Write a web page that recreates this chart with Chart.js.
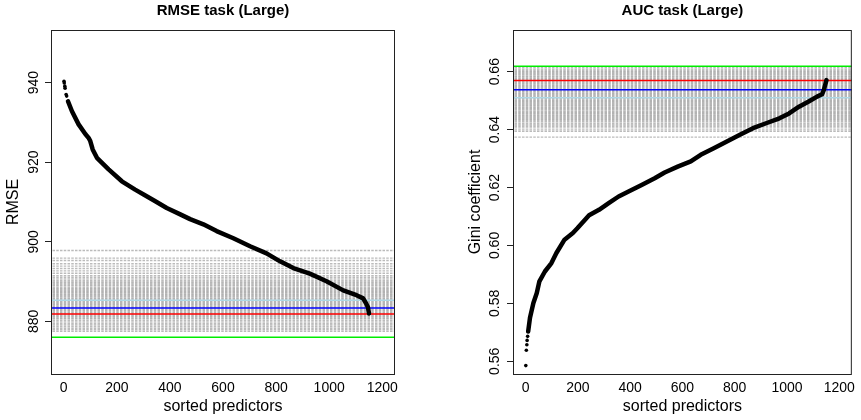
<!DOCTYPE html>
<html>
<head>
<meta charset="utf-8">
<script src="https://cdn.jsdelivr.net/npm/chart.js@4"></script>
<style>
    body { margin: 0; background: #fff; width: 861px; height: 420px; position: relative; overflow: hidden; }
    canvas { position: absolute; top: 0; }
    #rmseChart { left: 0; }
    #aucChart { left: 430px; }
</style>
</head>
<body>
<canvas id="rmseChart" width="430" height="420"></canvas>
<canvas id="aucChart" width="431" height="420"></canvas>
<script>
// ---- shared x axis ----
const xTicks = [0, 200, 400, 600, 800, 1000, 1200];

// ---- RMSE task ----
const rmseYTicks = [880, 900, 920, 940];
// first few predictors sit apart from the band
const rmseHeadX = [1, 2, 4, 5, 9, 11];
const rmseHeadY = [940.3, 939.9, 939.1, 938.6, 937.0, 936.6];
const rmseX = [16, 31, 56, 82, 94, 100, 109, 125, 169, 219, 269, 301, 345, 388, 439, 476, 526, 576, 639, 702, 764, 815, 865, 927, 990, 1053, 1103, 1128, 1140, 1146, 1150];
const rmseY = [935.3, 932.8, 929.5, 927.0, 926.1, 925.3, 923.2, 921.1, 918.2, 915.2, 913.1, 911.9, 910.2, 908.5, 906.9, 905.7, 904.4, 902.7, 900.9, 898.9, 897.1, 895.1, 893.4, 892.0, 890.1, 887.8, 886.6, 885.8, 884.4, 883.6, 882.0];
const rmseGray = [897.8, 895.9, 895.3, 894.5, 893.9, 893.3, 892.7, 892.1, 891.5, 891.1, 890.7, 890.3, 889.9, 889.6, 889.2, 888.9, 888.5, 888.2, 887.9, 887.6, 887.3, 887.0, 886.7, 886.4, 886.1, 885.8, 885.5, 885.2, 884.9, 884.6, 884.3, 884.0, 883.7, 883.4, 883.1, 882.8, 882.5, 882.2, 881.9, 881.6, 881.3, 881.0, 880.7, 880.3, 879.9, 879.5, 879.1, 878.7, 878.3, 877.9, 877.5];
const rmseRefLines = { lightblue: 885.3, blue: 883.4, red: 881.9, green: 876.0 };

// ---- AUC task ----
const aucYTicks = [0.56, 0.58, 0.60, 0.62, 0.64, 0.66];
const aucHeadX = [1, 3, 5, 6, 8];
const aucHeadY = [0.5585, 0.5638, 0.5657, 0.5672, 0.5686];
const aucX = [10, 17, 30, 43, 53, 74, 99, 118, 149, 181, 199, 243, 281, 318, 356, 394, 444, 494, 532, 582, 632, 670, 720, 770, 820, 870, 920, 971, 1008, 1046, 1083, 1115, 1134, 1141, 1146, 1151];
const aucY = [0.5703, 0.5750, 0.5801, 0.5836, 0.5876, 0.5910, 0.5939, 0.5974, 0.6020, 0.6043, 0.6060, 0.6104, 0.6123, 0.6146, 0.6169, 0.6186, 0.6209, 0.6232, 0.6252, 0.6272, 0.6290, 0.6313, 0.6336, 0.6359, 0.6382, 0.6405, 0.6422, 0.6439, 0.6456, 0.6479, 0.6497, 0.6514, 0.6522, 0.6537, 0.6554, 0.6571];
const aucGray = [0.6614, 0.6609, 0.6604, 0.6600, 0.6596, 0.6592, 0.6588, 0.6584, 0.6580, 0.6576, 0.6572, 0.6568, 0.6564, 0.6560, 0.6556, 0.6552, 0.6548, 0.6544, 0.6540, 0.6536, 0.6532, 0.6528, 0.6524, 0.6520, 0.6516, 0.6512, 0.6508, 0.6504, 0.6500, 0.6496, 0.6492, 0.6488, 0.6484, 0.6480, 0.6476, 0.6472, 0.6468, 0.6464, 0.6460, 0.6456, 0.6452, 0.6448, 0.6444, 0.6440, 0.6436, 0.6432, 0.6427, 0.6421, 0.6416, 0.6411, 0.6406, 0.6399, 0.6394, 0.6374];
const aucRefLines = { green: 0.6619, red: 0.6570, blue: 0.6538, lightblue: 0.6510 };

const FONT = "'Liberation Sans', Arial, Helvetica, sans-serif";
const lineColors = { green: "#00ee00", red: "#ff0000", blue: "#0000ff", lightblue: "#add8e6" };

function toPoints(xs, ys) {
    return xs.map((x, i) => ({ x: x, y: ys[i] }));
}

// R-style panel: dotted gray lines, coloured reference lines, box, titles
function panelPlugin(cfg) {
    return {
        id: "panel",
        beforeDatasetsDraw(chart) {
            const { ctx, chartArea: a, scales: { y } } = chart;
            ctx.save();
            ctx.beginPath();
            ctx.rect(a.left, a.top, a.right - a.left, a.bottom - a.top);
            ctx.clip();

            // dotted lines share one dash phase, so they stack into vertical stripes
            ctx.lineWidth = 1.4;
            ctx.setLineDash([2.5, 1.25]);
            ctx.strokeStyle = "rgba(120,120,120,0.5)";
            cfg.gray.forEach(v => {
                let py = y.getPixelForValue(v);
                ctx.beginPath();
                ctx.moveTo(Math.round(a.left) + 1.5, py);
                ctx.lineTo(a.right, py);
                ctx.stroke();
            });

            ctx.setLineDash([]);
            ctx.lineWidth = 1.5;
            Object.keys(cfg.lines).forEach(name => {
                let py = y.getPixelForValue(cfg.lines[name]);
                ctx.strokeStyle = lineColors[name];
                ctx.beginPath();
                ctx.moveTo(a.left, py);
                ctx.lineTo(a.right, py);
                ctx.stroke();
            });
            ctx.restore();
        },
        afterDraw(chart) {
            const { ctx, chartArea: a } = chart;
            ctx.save();
            ctx.strokeStyle = "#222";
            ctx.lineWidth = 1;
            ctx.strokeRect(a.left + 0.5, a.top + 0.5, a.right - a.left - 1, a.bottom - a.top);

            let cx = (a.left + a.right) / 2;
            ctx.fillStyle = "#000";
            ctx.textAlign = "center";
            ctx.textBaseline = "middle";
            ctx.font = "bold 15px " + FONT;
            ctx.fillText(cfg.title, cx, 11);

            ctx.font = "16px " + FONT;
            ctx.fillText("sorted predictors", cx, 407);

            ctx.translate(cfg.yTitleX, (a.top + a.bottom) / 2);
            ctx.rotate(-Math.PI / 2);
            ctx.fillText(cfg.yTitle, 0, 0);
            ctx.restore();
        }
    };
}

function makeChart(canvasId, o) {
    return new Chart(document.getElementById(canvasId), {
        type: "scatter",
        data: {
            datasets: [{
                data: toPoints(o.headX, o.headY),
                showLine: false,
                pointRadius: 1.8,
                pointBorderWidth: 0,
                backgroundColor: "#000"
            }, {
                data: toPoints(o.xs, o.ys),
                showLine: true,
                borderColor: "#000",
                borderWidth: 4.5,
                borderJoinStyle: "round",
                borderCapStyle: "round",
                pointRadius: 0,
                tension: 0
            }]
        },
        options: {
            responsive: false,
            animation: false,
            layout: { padding: { top: 30, right: o.padRight, bottom: 0, left: 0 } },
            plugins: { legend: { display: false }, tooltip: { enabled: false } },
            scales: {
                x: {
                    type: "linear",
                    min: -48,
                    max: 1248,
                    afterBuildTicks: s => { s.ticks = xTicks.map(v => ({ value: v })); },
                    afterFit: s => { s.height = 46; },
                    grid: { display: false, drawTicks: false },
                    border: { display: false },
                    ticks: {
                        color: "#000",
                        font: { family: FONT, size: 14 },
                        padding: 6,
                        maxRotation: 0,
                        autoSkip: false,
                        callback: v => String(v)
                    }
                },
                y: {
                    type: "linear",
                    min: o.yMin,
                    max: o.yMax,
                    afterBuildTicks: s => { s.ticks = o.yTicks.map(v => ({ value: v })); },
                    afterFit: s => { s.width = o.yWidth; },
                    grid: { display: true, drawOnChartArea: false, drawTicks: true, tickLength: 6, color: "#222" },
                    border: { display: false },
                    ticks: {
                        color: "#000",
                        font: { family: FONT, size: 14 },
                        minRotation: 90,
                        maxRotation: 90,
                        crossAlign: "center",
                        padding: o.tickPad,
                        autoSkip: false,
                        callback: v => o.fmt(v)
                    }
                }
            }
        },
        plugins: [panelPlugin({ gray: o.gray, lines: o.lines, title: o.title, yTitle: o.yTitle, yTitleX: o.yTitleX })]
    });
}

makeChart("rmseChart", {
    headX: rmseHeadX, headY: rmseHeadY, xs: rmseX, ys: rmseY,
    gray: rmseGray, lines: rmseRefLines,
    yTicks: rmseYTicks, yMin: 866.8, yMax: 953.2,
    fmt: v => String(v),
    yWidth: 51, padRight: 35, tickPad: -1.2,
    title: "RMSE task (Large)", yTitle: "RMSE", yTitleX: 14
});

makeChart("aucChart", {
    headX: aucHeadX, headY: aucHeadY, xs: aucX, ys: aucY,
    gray: aucGray, lines: aucRefLines,
    yTicks: aucYTicks, yMin: 0.5556, yMax: 0.6744,
    fmt: v => v.toFixed(2),
    yWidth: 83, padRight: 4, tickPad: -1.6,
    title: "AUC task (Large)", yTitle: "Gini coefficient", yTitleX: 45.7
});
</script>
</body>
</html>
